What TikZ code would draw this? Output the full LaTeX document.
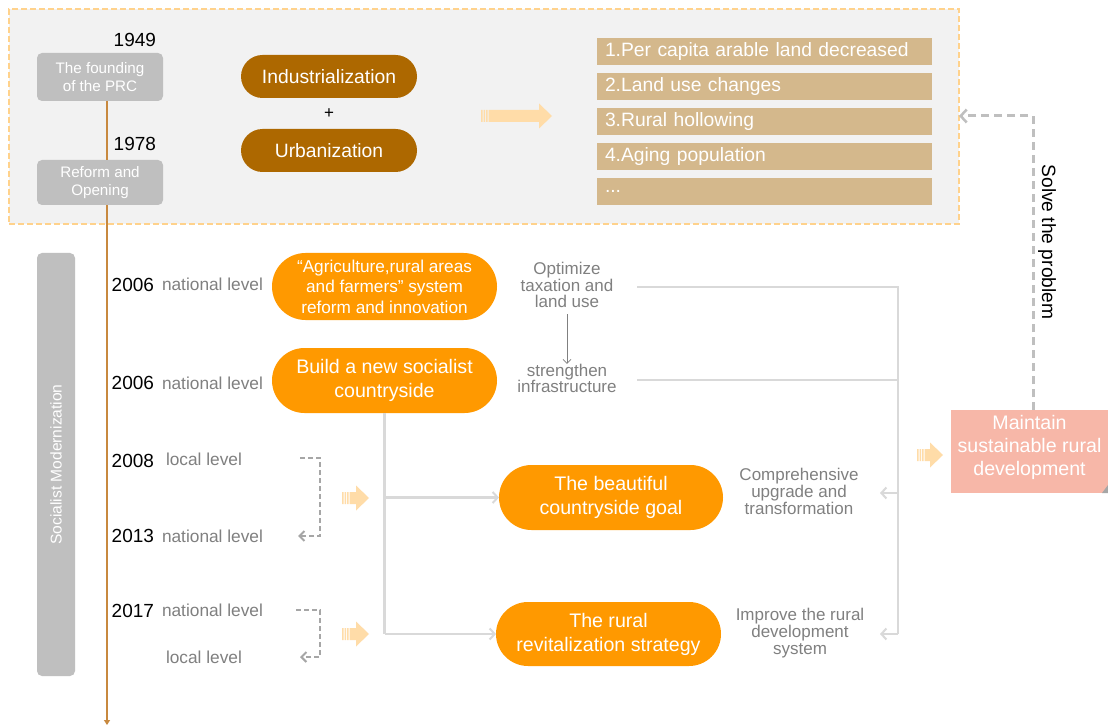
\documentclass[tikz,border=0pt]{standalone}
\usepackage{fontspec}
\setmainfont{Liberation Sans}
\usetikzlibrary{arrows.meta}
\definecolor{framefill}{HTML}{F2F2F2}
\definecolor{framedash}{HTML}{FFD28C}
\definecolor{boxgray}{HTML}{BFBFBF}
\definecolor{brownc}{HTML}{AD6800}
\definecolor{orangec}{HTML}{FF9900}
\definecolor{tanc}{HTML}{D4B88C}
\definecolor{fatc}{HTML}{FFDCA8}
\definecolor{salmon}{HTML}{F7B7A8}
\definecolor{txtgray}{HTML}{808080}
\definecolor{linegray}{HTML}{D9D9D9}
\definecolor{dashgray}{HTML}{A6A6A6}
\definecolor{solvegray}{HTML}{BFBFBF}
\definecolor{timec}{HTML}{C8893F}
\begin{document}
\begin{tikzpicture}[x=1pt,y=-1pt,
  every node/.style={inner sep=0pt,outer sep=0pt},
  framebox/.style={rectangle,fill=framefill,draw=framedash,line width=1.6pt,dash pattern=on 6pt off 3pt,minimum width=950pt,minimum height=215pt},
  graybox/.style={rectangle,rounded corners=5pt,fill=boxgray,text=white,align=center,minimum width=126pt,font=\fontsize{15.2}{18}\selectfont},
  brownpill/.style={rectangle,rounded corners=21.5pt,fill=brownc,text=white,minimum width=176pt,minimum height=43pt,font=\fontsize{19.3}{22}\selectfont},
  orangepill/.style={rectangle,rounded corners=#1,fill=orangec,text=white,align=center,minimum width=225pt,minimum height=2*#1},
  listbox/.style={rectangle,fill=tanc,text=white,minimum height=27pt,text width=319pt,inner xsep=8pt,align=left,font=\fontsize{19.3}{22}\selectfont},
  year/.style={anchor=east,font=\fontsize{19}{22}\selectfont},
  level/.style={anchor=west,text=txtgray,font=\fontsize{17.3}{20}\selectfont},
  note/.style={text=txtgray,align=center,font=\fontsize{17}{16.8}\selectfont},
  maintbox/.style={rectangle,fill=salmon,text=white,align=center,minimum width=157pt,minimum height=83pt,font=\fontsize{19.6}{23}\selectfont},
  timeline/.style={draw=timec,line width=1.2pt},
  bus/.style={draw=linegray,line width=2.5pt},
  busarrow/.style={bus,-{Straight Barb[length=5pt,width=11pt,line width=2pt]}},
  bracket/.style={draw=dashgray,line width=2pt,dash pattern=on 5pt off 3pt,-{Straight Barb[length=5pt,width=10pt,line width=2pt]}},
  solvearrow/.style={draw=solvegray,line width=3pt,dash pattern=on 8pt off 5pt,-{Straight Barb[length=6pt,width=13pt,line width=2.5pt]}},
  smallarrow/.style={draw=txtgray,line width=0.7pt,-{Straight Barb[length=4pt,width=8pt]}},
  fatarrow/.pic={
    \fill[fatc] (0,-6) rectangle (1.5,6) (2.5,-6) rectangle (4,6) (5,-6) rectangle (6.5,6);
    \fill[fatc] (7.5,-6) -- (#1-13,-6) -- (#1-13,-12.5) -- (#1,0) -- (#1-13,12.5) -- (#1-13,6) -- (7.5,6) -- cycle;
  }
]
\useasboundingbox (0,0) rectangle (1108,727);
\fill[white] (0,0) rectangle (1108,727);

% top frame
\node[framebox] (frame) at (484,116.5) {};

% timeline
\node[graybox,minimum height=48pt] (found) at (100,77) {The founding\\of the PRC};
\node[graybox,minimum height=45pt] (reform) at (100,182.5) {Reform and\\Opening};
\node[year] (y1949) at (156,40) {1949};
\node[year] (y1978) at (156,144) {1978};
\coordinate (tlend) at (107,725);
\draw[timeline] (found.south -| tlend) -- (reform.north -| tlend);
\draw[timeline,-{Triangle[length=5pt,width=6pt]}] (reform.south -| tlend) -- (tlend);

% industrialization / urbanization
\node[brownpill] (indus) at (329,76.5) {Industrialization};
\node[font=\fontsize{17}{20}\selectfont] (plus) at (329,114) {+};
\node[brownpill] (urban) at (329,150.5) {Urbanization};
\pic at (481,116) {fatarrow=71};

% problems list
\node[listbox] (p1) at (764.5,51.5) {1.Per capita arable land decreased};
\node[listbox] (p2) at (764.5,86.5) {2.Land use changes};
\node[listbox] (p3) at (764.5,121.5) {3.Rural hollowing};
\node[listbox] (p4) at (764.5,156.5) {4.Aging population};
\node[listbox] (p5) at (764.5,191.5) {...};

% socialist modernization bar
\node[graybox,rotate=90,minimum width=423pt,minimum height=38pt,font=\fontsize{15.6}{18}\selectfont] (soc) at (56,464.5) {Socialist Modernization};

% years and levels
\node[year] (y06a) at (154,285) {2006};
\node[level] (l06a) at (162,284) {national level};
\node[year] (y06b) at (154,383) {2006};
\node[level] (l06b) at (162,383) {national level};
\node[year] (y08) at (154,461) {2008};
\node[level] (l08) at (166,459) {local level};
\node[year] (y13) at (154,536) {2013};
\node[level] (l13) at (162,536) {national level};
\node[year] (y17) at (154,611) {2017};
\node[level] (l17) at (162,610) {national level};
\node[level] (l17b) at (166,657) {local level};

% orange pills
\node[orangepill=33.5pt,font=\fontsize{17.2}{20.5}\selectfont] (agri) at (384.5,286.5) {“Agriculture,rural areas\\and farmers” system\\reform and innovation};
\node[orangepill=32.5pt,font=\fontsize{19.6}{24}\selectfont] (build) at (384.5,380.5) {Build a new socialist\\countryside};
\node[orangepill=32.5pt,minimum width=224pt,font=\fontsize{19.6}{24}\selectfont] (beaut) at (611,497.5) {The beautiful\\countryside goal};
\node[orangepill=32pt,font=\fontsize{19.6}{24}\selectfont] (rural) at (608.5,634) {The rural\\revitalization strategy};

% gray notes
\node[note] (opt) at (567,285) {Optimize\\taxation and\\land use};
\node[note] (str) at (567,378.5) {strengthen\\infrastructure};
\node[note] (comp) at (799,491.5) {Comprehensive\\upgrade and\\transformation};
\node[note] (impr) at (800,633) {Improve the rural\\development\\system};
\draw[smallarrow,shorten <=6pt] (opt.south) -- (str.north);

% right bus
\coordinate (optS) at (637,287);
\coordinate (strS) at (637,380);
\coordinate (busT) at (898,287);
\coordinate (busB) at (898,634);
\coordinate (compT) at (880,493);
\coordinate (imprT) at (880,634);
\draw[bus] (optS) -- (busT) -- (busB);
\draw[bus] (strS) -- (strS -| busT);
\draw[busarrow] (busT |- compT) -- (compT);
\draw[busarrow] (busB) -- (imprT);

% build connectors
\coordinate (buildB) at (build.south |- rural.west);
\draw[bus] (build.south) -- (buildB);
\draw[busarrow] (build.south |- beaut.west) -- (beaut.west);
\draw[busarrow] (buildB) -- (rural.west);

% brackets
\coordinate (b1s) at (300,458);
\coordinate (b1c) at (320,458);
\coordinate (b1e) at (298,536);
\draw[bracket] (b1s) -- (b1c) -- (b1c |- b1e) -- (b1e);
\coordinate (b2s) at (296,610);
\coordinate (b2c) at (320,610);
\coordinate (b2e) at (300,657);
\draw[bracket] (b2s) -- (b2c) -- (b2c |- b2e) -- (b2e);

\pic at (342,498) {fatarrow=27};
\pic at (342,634) {fatarrow=27};

% maintain box
\node[maintbox] (maint) at (1029.5,451.5) {Maintain\\sustainable rural\\development\\[-11pt]\mbox{}};
\fill[gray!70] ([xshift=-6pt]maint.south east) -- ([yshift=8pt]maint.south east) -- (maint.south east) -- cycle;
\pic at (917,455) {fatarrow=26};

% solve the problem
\coordinate (sc) at (1033,116);
\draw[solvearrow] (sc |- maint.north) -- (sc) -- (frame.east |- sc);
\node[rotate=-90,font=\fontsize{19.2}{22}\selectfont] (solve) at (1047,242) {Solve the problem};
\end{tikzpicture}
\end{document}
